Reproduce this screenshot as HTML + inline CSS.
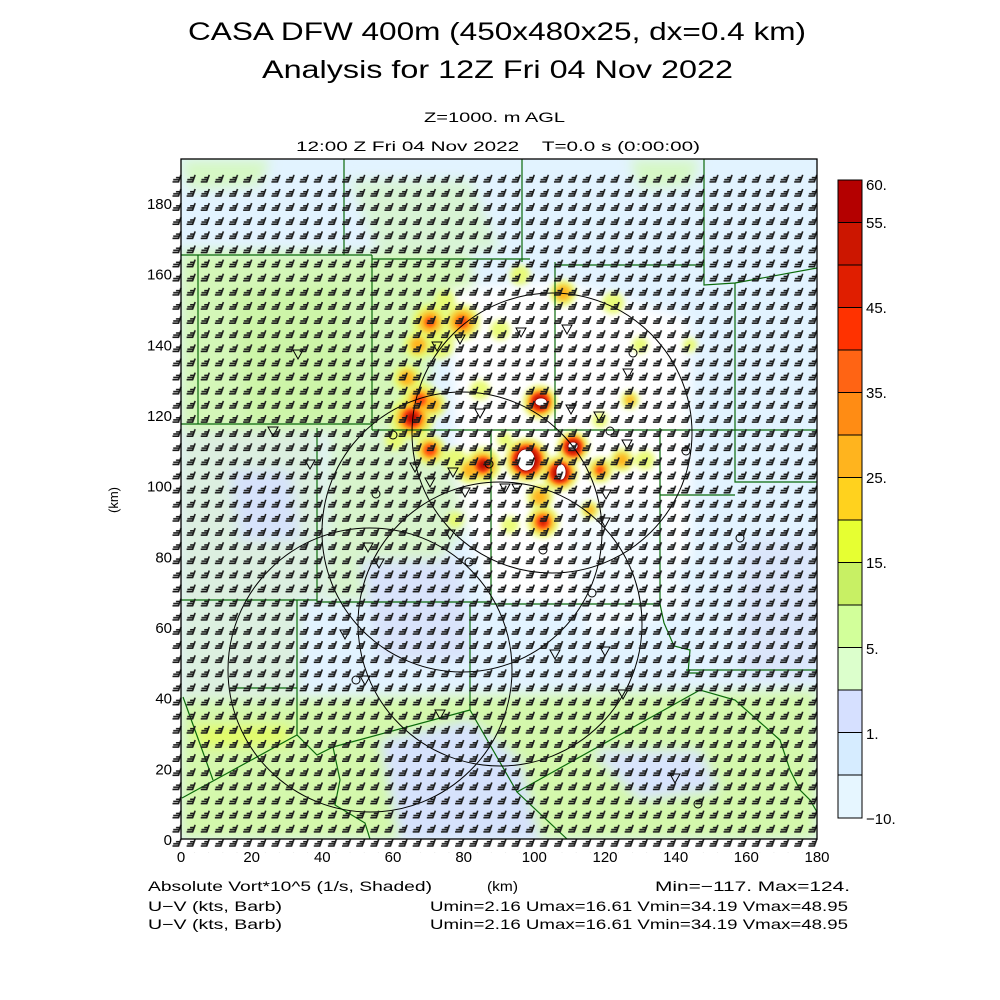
<!DOCTYPE html>
<html><head><meta charset="utf-8"><style>
html,body{margin:0;padding:0;background:#fff;}
svg{display:block;}
text{font-family:"Liberation Sans",sans-serif;fill:#000;}
</style></head><body>
<svg width="1000" height="1000" viewBox="0 0 1000 1000" xmlns="http://www.w3.org/2000/svg">
<defs>
<filter id="b6" x="-50%" y="-50%" width="200%" height="200%"><feGaussianBlur stdDeviation="6"/></filter>
<filter id="b3" x="-50%" y="-50%" width="200%" height="200%"><feGaussianBlur stdDeviation="3"/></filter>
<filter id="b2" x="-50%" y="-50%" width="200%" height="200%"><feGaussianBlur stdDeviation="1.8"/></filter>
<clipPath id="pc"><rect x="181" y="159" width="636" height="680"/></clipPath>
<pattern id="barb" patternUnits="userSpaceOnUse" x="171" y="838" width="14.13" height="14.13">
<g stroke="#1a1a1a" stroke-width="1.6" fill="none" stroke-linecap="butt">
<path d="M10,1 L7.4,8.2 M8,8 L1.5,8 M8.6,5.8 L2.2,5.8 M9.2,3.7 L5,3.7"/>
</g>
</pattern>
</defs>

<!-- titles -->
<text x="188" y="40" font-size="25" textLength="618" lengthAdjust="spacingAndGlyphs">CASA DFW 400m (450x480x25, dx=0.4 km)</text>
<text x="262" y="78" font-size="25" textLength="471" lengthAdjust="spacingAndGlyphs">Analysis for 12Z Fri 04 Nov 2022</text>
<text x="424" y="122" font-size="14" textLength="141" lengthAdjust="spacingAndGlyphs">Z=1000. m AGL</text>
<text x="296" y="151" font-size="14" textLength="404" lengthAdjust="spacingAndGlyphs" xml:space="preserve">12:00 Z Fri 04 Nov 2022    T=0.0 s (0:00:00)</text>

<!-- field -->
<g clip-path="url(#pc)">
<rect x="181" y="159" width="636" height="680" fill="#e2f3ff"/>
<g filter="url(#b6)">
<polygon points="181,250 470,255 475,300 440,320 420,430 181,430" fill="#d4f7b8"/>
<polygon points="230,290 340,285 360,420 250,425" fill="#cdf5a8"/>
<polygon points="181,430 320,430 330,600 181,600" fill="#dcefe0"/>
<polygon points="330,430 440,440 470,520 410,600 330,600" fill="#d8f4cc"/>
<polygon points="181,160 270,160 260,185 190,190" fill="#d6f8c4"/>
<polygon points="630,160 700,160 690,185 640,188" fill="#d6f8c4"/>
<polygon points="350,180 470,180 500,250 380,255" fill="#d8f4d4"/>
<polygon points="181,700 817,690 817,839 181,839" fill="#d4f8ac"/>
<polygon points="181,600 300,600 300,700 181,700" fill="#dcf0e0"/>
<polygon points="380,740 470,720 520,760 540,839 400,839" fill="#d6e2fc"/>
<polygon points="590,750 700,750 720,790 640,800" fill="#d8e4fc"/>
<polygon points="190,725 290,725 290,745 200,748" fill="#e2fb66"/>
<polygon points="450,290 560,280 690,320 690,560 620,610 490,600 460,500" fill="#ffffff"/>
<polygon points="560,500 660,500 690,610 590,640" fill="#f4fbff"/>
<polygon points="360,560 460,560 470,660 380,660" fill="#d9e3fb"/>
<polygon points="230,470 290,470 300,540 240,540" fill="#d6e2fb"/>
<polygon points="740,540 817,540 817,680 740,680" fill="#dbe6fb"/>
</g>
<!-- storm blobs -->
<g>
<g filter="url(#b3)" fill="#e8fb6a" opacity="0.9">
<circle cx="430" cy="322" r="18"/><circle cx="462" cy="322" r="18"/><circle cx="418" cy="345" r="14"/><circle cx="440" cy="345" r="14"/>
<circle cx="407" cy="378" r="14"/><circle cx="420" cy="400" r="18"/><circle cx="412" cy="418" r="22"/><circle cx="432" cy="404" r="14"/>
<circle cx="430" cy="450" r="15"/><circle cx="455" cy="460" r="12"/><circle cx="483" cy="465" r="18"/><circle cx="470" cy="470" r="14"/>
<circle cx="540" cy="402" r="17"/><circle cx="527" cy="460" r="22"/><circle cx="560" cy="473" r="18"/><circle cx="573" cy="447" r="16"/>
<circle cx="600" cy="470" r="13"/><circle cx="622" cy="460" r="12"/><circle cx="645" cy="460" r="10"/><circle cx="543" cy="522" r="16"/>
<circle cx="540" cy="497" r="13"/><circle cx="563" cy="293" r="13"/><circle cx="613" cy="303" r="11"/><circle cx="510" cy="525" r="9"/>
<circle cx="520" cy="275" r="10"/><circle cx="500" cy="330" r="10"/><circle cx="630" cy="400" r="9"/><circle cx="600" cy="420" r="8"/>
<circle cx="480" cy="390" r="10"/><circle cx="590" cy="510" r="9"/><circle cx="455" cy="520" r="8"/><circle cx="505" cy="440" r="8"/>
<circle cx="445" cy="300" r="10"/><circle cx="395" cy="440" r="10"/><circle cx="640" cy="345" r="8"/><circle cx="690" cy="345" r="7"/>
</g>
<g filter="url(#b3)" fill="#ffb41e">
<circle cx="430" cy="322" r="11"/><circle cx="462" cy="322" r="12"/><circle cx="418" cy="345" r="8"/>
<circle cx="407" cy="378" r="8"/><circle cx="420" cy="400" r="11"/><circle cx="412" cy="418" r="15"/><circle cx="432" cy="404" r="8"/>
<circle cx="430" cy="450" r="10"/><circle cx="483" cy="465" r="12"/><circle cx="470" cy="470" r="8"/>
<circle cx="540" cy="402" r="13"/><circle cx="527" cy="460" r="18"/><circle cx="560" cy="473" r="14"/><circle cx="573" cy="447" r="12"/>
<circle cx="600" cy="470" r="8"/><circle cx="622" cy="460" r="7"/><circle cx="543" cy="522" r="11"/>
<circle cx="540" cy="497" r="8"/><circle cx="563" cy="293" r="8"/><circle cx="630" cy="400" r="5"/><circle cx="590" cy="510" r="5"/>
</g>
<g filter="url(#b2)" fill="#ff5010">
<circle cx="462" cy="322" r="6"/><circle cx="430" cy="322" r="5"/><circle cx="420" cy="400" r="6"/><circle cx="412" cy="418" r="10"/>
<circle cx="430" cy="450" r="6"/><circle cx="483" cy="465" r="8"/><circle cx="540" cy="402" r="10"/><circle cx="527" cy="460" r="15"/>
<circle cx="560" cy="473" r="11"/><circle cx="573" cy="447" r="10"/><circle cx="543" cy="522" r="7"/><circle cx="600" cy="470" r="4"/>
</g>
<g filter="url(#b2)" fill="#c40a00">
<circle cx="412" cy="418" r="6"/><circle cx="483" cy="465" r="5"/><circle cx="540" cy="402" r="7"/><circle cx="527" cy="460" r="12"/>
<circle cx="560" cy="473" r="8"/><circle cx="573" cy="447" r="7"/><circle cx="543" cy="522" r="3"/>
</g>
<g fill="#fff" stroke="#900" stroke-width="0.8">
<ellipse cx="541" cy="402" rx="6" ry="4"/><ellipse cx="526" cy="460" rx="9" ry="11"/><ellipse cx="561" cy="472" rx="5" ry="8"/><ellipse cx="573" cy="446" rx="5" ry="4"/>
</g>
</g>
<!-- county lines -->
<g stroke="#0a6a0a" stroke-width="1.2" fill="none">
<path d="M344,159 V255 M181,255 H372 M372,259 H530 M555,265 H704 M704,159 V285 L735,283 L817,268"/>
<path d="M522,159 V262 M198,255 V424 M372,255 V430 M555,262 V430 M735,283 V482 H817"/>
<path d="M181,424 H372 M372,430 H817"/>
<path d="M317,428 V600 M181,600 H317 L317,602 H491 V430 M491,604 H660 V428 M660,495 H735"/>
<path d="M660,604 L664,623 L674,646 L690,650 L688,673 L700,673 M686,670 H817"/>
<path d="M297,600 V735 M230,688 H297 M470,604 V710"/>
<path d="M470,710 L333,747 L317,755 L297,735 L182,798"/>
<path d="M183,697 L213,780"/>
<path d="M470,710 L517,792 L567,839"/>
<path d="M517,792 L700,690 L735,700 L780,740 L790,770 L800,790 L810,800 L817,812"/>
<path d="M333,747 L340,780 L335,805 L365,823 L370,839"/>
</g>
<!-- range rings -->
<g stroke="#000" stroke-width="1" fill="none">
<circle cx="552" cy="433" r="140"/>
<circle cx="462" cy="532" r="140"/>
<circle cx="500" cy="624" r="142"/>
<circle cx="370" cy="670" r="142"/>
</g>
<!-- radar symbols -->
<g stroke="#000" stroke-width="1" fill="none">
<path d="M293,350 h10 l-5,9 z M268,427 h10 l-5,9 z M432,342 h10 l-5,9 z M516,328 h10 l-5,9 z M562,325 h10 l-5,9 z M623,369 h10 l-5,9 z M566,405 h10 l-5,9 z M594,412 h10 l-5,9 z M475,409 h10 l-5,9 z M425,478 h10 l-5,9 z M410,463 h10 l-5,9 z M445,530 h10 l-5,9 z M460,488 h10 l-5,9 z M500,484 h10 l-5,9 z M600,518 h10 l-5,9 z M622,440 h10 l-5,9 z M601,490 h10 l-5,9 z M363,543 h10 l-5,9 z M374,559 h10 l-5,9 z M360,676 h10 l-5,9 z M435,710 h10 l-5,9 z M550,650 h10 l-5,9 z M600,647 h10 l-5,9 z M618,690 h10 l-5,9 z M670,774 h10 l-5,9 z M340,630 h10 l-5,9 z M305,460 h10 l-5,9 z M448,468 h10 l-5,9 z M512,484 h10 l-5,9 z M455,335 h10 l-5,9 z"/>
<circle cx="393" cy="435" r="4"/><circle cx="376" cy="494" r="4"/><circle cx="469" cy="562" r="4"/><circle cx="543" cy="550" r="4"/>
<circle cx="592" cy="593" r="4"/><circle cx="633" cy="353" r="4"/><circle cx="686" cy="451" r="4"/><circle cx="740" cy="538" r="4"/>
<circle cx="356" cy="680" r="4"/><circle cx="698" cy="804" r="4"/><circle cx="489" cy="464" r="4"/><circle cx="610" cy="431" r="4"/>
</g>
</g>
<!-- barbs -->
<rect x="171" y="174" width="650" height="679" fill="url(#barb)"/>

<!-- frame & ticks -->
<rect x="181" y="159" width="636" height="680" fill="none" stroke="#000" stroke-width="1.3"/>
<g stroke="#000" stroke-width="1.2" id="ticks"></g>
<script>
(function(){
var g=document.getElementById('ticks');var s='';var k=3.5333;
for(var i=0;i<=36;i++){var x=181+i*5*k;var L=(i%2==0)?8:6;
s+='<line x1="'+x+'" y1="839" x2="'+x+'" y2="'+(839-L)+'"/>';
s+='<line x1="'+x+'" y1="159" x2="'+x+'" y2="'+(159+L)+'"/>';}
for(var j=0;j<=38;j++){var y=839-j*5*k;if(y<159)break;var L=(j%2==0)?8:6;
s+='<line x1="181" y1="'+y+'" x2="'+(181+L)+'" y2="'+y+'"/>';
s+='<line x1="817" y1="'+y+'" x2="'+(817-L)+'" y2="'+y+'"/>';}
g.innerHTML=s;
})();
</script>

<!-- axis labels -->
<g font-size="15" text-anchor="middle">
<text x="181" y="862">0</text><text x="251.7" y="862">20</text><text x="322.3" y="862">40</text><text x="393" y="862">60</text>
<text x="463.7" y="862">80</text><text x="534.3" y="862">100</text><text x="605" y="862">120</text><text x="675.7" y="862">140</text>
<text x="746.3" y="862">160</text><text x="817" y="862">180</text>
</g>
<g font-size="15" text-anchor="end">
<text x="172" y="845">0</text><text x="172" y="774.3">20</text><text x="172" y="703.7">40</text><text x="172" y="633">60</text>
<text x="172" y="562.3">80</text><text x="172" y="491.7">100</text><text x="172" y="421">120</text><text x="172" y="350.3">140</text>
<text x="172" y="279.7">160</text><text x="172" y="209">180</text>
</g>
<text x="118" y="500" font-size="13" text-anchor="middle" transform="rotate(-90 118 500)">(km)</text>

<!-- colorbar -->
<g stroke="#000" stroke-width="1">
<rect x="838" y="180" width="24" height="42.5" fill="#b40000"/>
<rect x="838" y="222.5" width="24" height="42.5" fill="#cc1600"/>
<rect x="838" y="265" width="24" height="42.5" fill="#e01e00"/>
<rect x="838" y="307.5" width="24" height="42.5" fill="#ff3200"/>
<rect x="838" y="350" width="24" height="42.5" fill="#ff6414"/>
<rect x="838" y="392.5" width="24" height="42.5" fill="#ff8c14"/>
<rect x="838" y="435" width="24" height="42.5" fill="#ffb41e"/>
<rect x="838" y="477.5" width="24" height="42.5" fill="#ffd21e"/>
<rect x="838" y="520" width="24" height="42.5" fill="#e6ff32"/>
<rect x="838" y="562.5" width="24" height="42.5" fill="#c8f064"/>
<rect x="838" y="605" width="24" height="42.5" fill="#d2ff9a"/>
<rect x="838" y="647.5" width="24" height="42.5" fill="#dcffcc"/>
<rect x="838" y="690" width="24" height="42.5" fill="#d6e0ff"/>
<rect x="838" y="732.5" width="24" height="42.5" fill="#d6ecff"/>
<rect x="838" y="775" width="24" height="43" fill="#e6f6ff"/>
</g>
<g font-size="15">
<text x="866" y="190">60.</text><text x="866" y="228">55.</text><text x="866" y="313">45.</text><text x="866" y="398">35.</text>
<text x="866" y="483">25.</text><text x="866" y="568">15.</text><text x="866" y="654">5.</text><text x="866" y="739">1.</text>
<text x="866" y="824">−10.</text>
</g>

<!-- bottom text -->
<g font-size="14">
<text x="148" y="891" textLength="284" lengthAdjust="spacingAndGlyphs">Absolute Vort*10^5 (1/s, Shaded)</text>
<text x="487" y="891" textLength="31" lengthAdjust="spacingAndGlyphs">(km)</text>
<text x="655" y="891" textLength="195" lengthAdjust="spacingAndGlyphs">Min=−117. Max=124.</text>
<text x="148" y="911" textLength="134" lengthAdjust="spacingAndGlyphs">U−V (kts, Barb)</text>
<text x="430" y="911" textLength="418" lengthAdjust="spacingAndGlyphs">Umin=2.16 Umax=16.61 Vmin=34.19 Vmax=48.95</text>
<text x="148" y="929" textLength="134" lengthAdjust="spacingAndGlyphs">U−V (kts, Barb)</text>
<text x="430" y="929" textLength="418" lengthAdjust="spacingAndGlyphs">Umin=2.16 Umax=16.61 Vmin=34.19 Vmax=48.95</text>
</g>
</svg>
</body></html>
